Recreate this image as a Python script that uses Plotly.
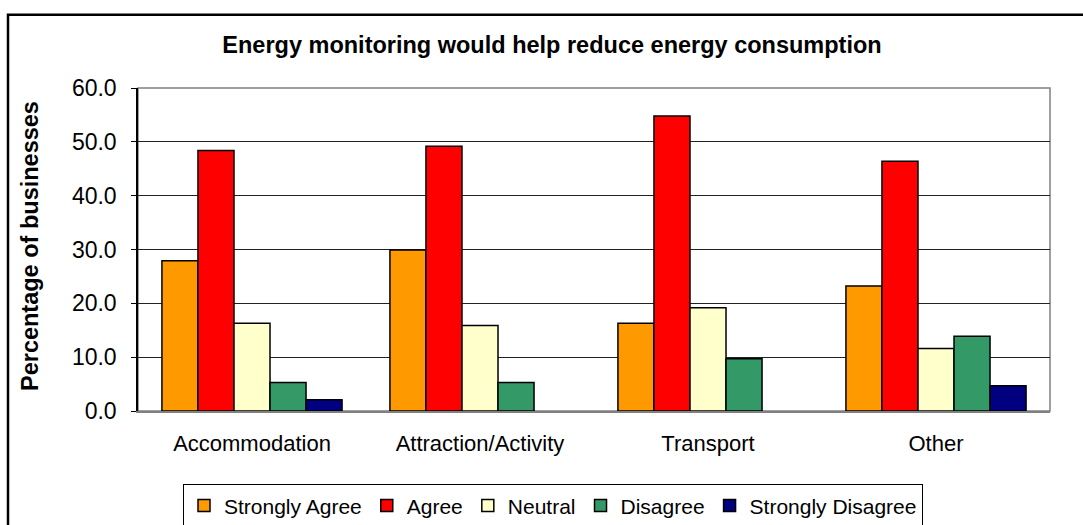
import plotly.graph_objects as go

# Survey categories and response shares (% of businesses)
categories = ["Accommodation", "Attraction/Activity", "Transport", "Other"]
strongly_agree = [27.9, 29.9, 16.3, 23.2]
agree = [48.4, 49.2, 54.8, 46.4]
neutral = [16.3, 15.9, 19.2, 11.6]
disagree = [5.3, 5.3, 9.7, 13.9]
strongly_disagree = [2.1, 0.0, 0.0, 4.7]

series_names = ["Strongly Agree", "Agree", "Neutral", "Disagree", "Strongly Disagree"]
series_values = [strongly_agree, agree, neutral, disagree, strongly_disagree]
series_colors = ["#FF9900", "#FF0000", "#FFFFCC", "#339966", "#000080"]

y_ticks = [0, 10, 20, 30, 40, 50, 60]

W, H = 1083, 525
L, R, T, B = 138, 33, 87.5, 113.5
plot_w = W - L - R
plot_h = H - T - B

def px_x(px):
    return (px - L) / plot_w

def px_y(py):
    return (H - B - py) / plot_h

fig = go.Figure()
for name, vals, col in zip(series_names, series_values, series_colors):
    # empty bars get no outline so they leave no trace on the axis
    widths = [1.5 if v > 0 else 0 for v in vals]
    fig.add_trace(go.Bar(
        x=categories, y=vals, name=name,
        marker=dict(color=col, line=dict(color="#000000", width=widths)),
    ))

font_family = "Liberation Sans, Arial, sans-serif"

fig.update_layout(
    width=W, height=H,
    margin=dict(l=L, r=R, t=T, b=B, pad=0, autoexpand=False),
    paper_bgcolor="white",
    plot_bgcolor="white",
    barmode="group",
    bargap=0.21,
    bargroupgap=0,
    font=dict(family=font_family, color="#000000"),
    title=dict(
        text="<b>Energy monitoring would help reduce energy consumption</b>",
        font=dict(size=23.5, family=font_family, color="#000000"),
        xref="paper", x=px_x(552), xanchor="center",
        yref="container", y=1 - 45 / H, yanchor="middle",
    ),
    showlegend=True,
    legend=dict(
        orientation="h",
        x=px_x(183), xanchor="left",
        y=px_y(485), yanchor="top",
        bordercolor="#000000", borderwidth=1,
        bgcolor="white",
        font=dict(size=21, family=font_family),
        itemclick=False, itemdoubleclick=False,
        traceorder="normal",
        itemwidth=30,
        tracegroupgap=0,
    ),
    xaxis=dict(
        showgrid=False,
        showline=True, linecolor="#808080", linewidth=1.5,
        ticks="", tickfont=dict(size=22),
        ticklabelstandoff=12,
    ),
    yaxis=dict(
        range=[0, 60],
        tickvals=y_ticks,
        tickformat=".1f",
        showgrid=True, gridcolor="#222222", gridwidth=1,
        showline=True, linecolor="#000000", linewidth=1.5,
        ticks="outside", ticklen=5, tickcolor="#000000",
        tickfont=dict(size=23),
        ticklabelstandoff=10,
        zeroline=False,
    ),
    annotations=[dict(
        text="<b>Percentage of businesses</b>",
        textangle=-90,
        xref="paper", yref="paper",
        x=px_x(30), y=px_y(246),
        xanchor="center", yanchor="middle",
        showarrow=False,
        font=dict(size=23.5, family=font_family, color="#000000"),
    )],
    shapes=[
        # plot area frame
        dict(type="rect", xref="paper", yref="paper", x0=0, x1=1, y0=0, y1=1,
             line=dict(color="#808080", width=1.5), layer="below"),
        # chart area frame
        dict(type="rect", xref="paper", yref="paper",
             x0=px_x(8), x1=px_x(1100), y0=px_y(560), y1=px_y(14),
             line=dict(color="#000000", width=2.5), layer="below"),
    ],
)

fig.write_html("out.html")
